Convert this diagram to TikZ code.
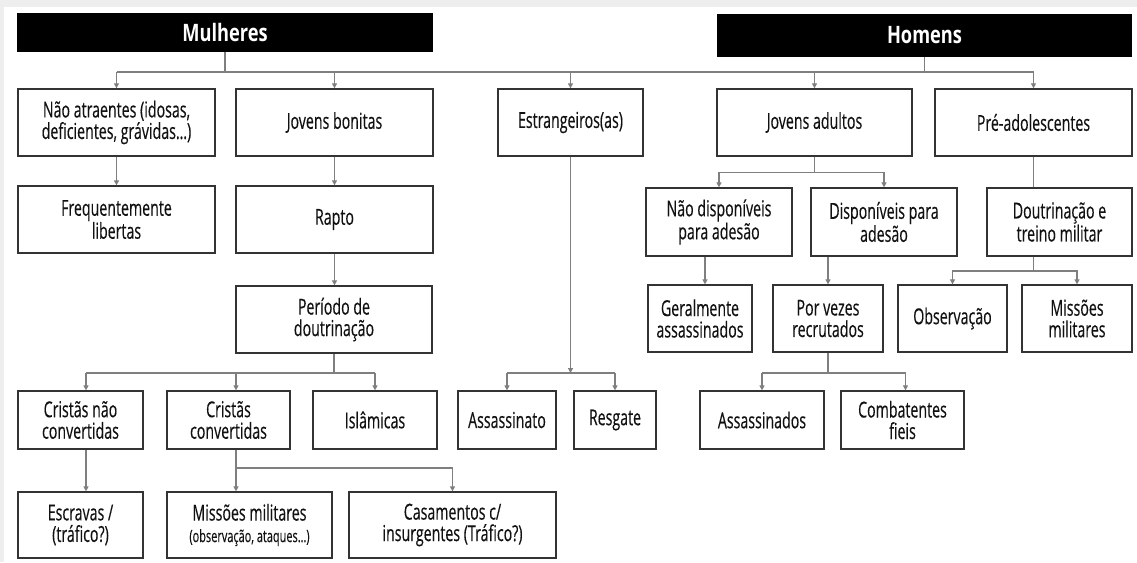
\documentclass[tikz,border=0pt]{standalone}
\usepackage{fontspec}
\setmainfont{Open Sans}[FakeStretch=0.645,FakeBold=0.3]
\newfontfamily\hdrfont{Open Sans}[FakeStretch=0.76]
\usetikzlibrary{arrows.meta}
\definecolor{conn}{HTML}{7F7F7F}
\definecolor{bord}{HTML}{333333}
\definecolor{framegray}{HTML}{EEEEEE}
\definecolor{txt}{HTML}{111111}
\tikzset{
  box/.style={draw=bord, line width=1.3pt, fill=white, align=center, inner sep=1pt,
    font=\fontsize{22}{21.5}\selectfont, text=txt},
  hdr/.style={fill=black, text=white, font=\hdrfont\bfseries\fontsize{24}{26}\selectfont, inner sep=0pt},
  link/.style={draw=conn, line width=1.2pt},
  arr/.style={link, -{Triangle[length=5pt,width=5pt]}},
}
\begin{document}
\begin{tikzpicture}[x=1pt,y=-1pt]
\useasboundingbox (0,0) rectangle (1137,562);
\fill[white] (0,0) rectangle (1137,562);
\fill[framegray] (0,0) rectangle (1137,7);
\fill[framegray] (0,0) rectangle (4,562);

% headers
\node[hdr, minimum width=416pt, minimum height=39pt] (mul) at (225,32.5) {Mulheres};
\node[hdr, minimum width=415pt, minimum height=43pt] (hom) at (924.5,35.5) {Homens};

% row 1
\node[box, minimum width=197pt, minimum height=67pt] (na) at (116.5,122.5) {Não atraentes (idosas,\\deficientes, grávidas…)};
\node[box, minimum width=197pt, minimum height=67pt] (jb) at (334.5,122.5) {Jovens bonitas};
\node[box, minimum width=145pt, minimum height=67pt] (est) at (570.5,122.5) {Estrangeiros(as)};
\node[box, minimum width=195pt, minimum height=67pt] (ja) at (814.5,122.5) {Jovens adultos};
\node[box, minimum width=197pt, minimum height=67pt] (pre) at (1033.5,122.5) {Pré-adolescentes};

% row 2
\node[box, minimum width=197pt, minimum height=67pt] (freq) at (116.5,219.5) {Frequentemente\\libertas};
\node[box, minimum width=197pt, minimum height=67pt] (rapto) at (334.5,219.5) {Rapto};
\node[box, minimum width=146pt, minimum height=68pt] (nd) at (719,222) {Não disponíveis\\para adesão};
\node[box, minimum width=146pt, minimum height=68pt] (d) at (884,222) {Disponíveis para\\adesão};
\node[box, minimum width=145pt, minimum height=68pt] (dout) at (1059.5,222) {Doutrinação e\\treino militar};

% row 3
\node[box, minimum width=196pt, minimum height=67pt] (per) at (334,319.5) {Período de\\doutrinação};
\node[box, minimum width=104pt, minimum height=67pt] (ger) at (700,318.5) {Geralmente\\assassinados};
\node[box, minimum width=110pt, minimum height=67pt] (por) at (828,318.5) {Por vezes\\recrutados};
\node[box, minimum width=109pt, minimum height=67pt] (obs) at (952.5,318.5) {Observação};
\node[box, minimum width=110pt, minimum height=67pt] (mis) at (1077,318.5) {Missões\\militares};

% row 4
\node[box, minimum width=125pt, minimum height=58pt] (cn) at (80.5,420) {Cristãs não\\convertidas};
\node[box, minimum width=123pt, minimum height=58pt] (cc) at (228.5,420) {Cristãs\\convertidas};
\node[box, minimum width=124pt, minimum height=58pt] (isl) at (375,420) {Islâmicas};
\node[box, minimum width=98pt, minimum height=58pt] (ass) at (507,420) {Assassinato};
\node[box, minimum width=82pt, minimum height=58pt] (res) at (615,420) {Resgate};
\node[box, minimum width=124pt, minimum height=58pt] (assd) at (762,420) {Assassinados};
\node[box, minimum width=123pt, minimum height=58pt] (comb) at (902.5,420) {Combatentes\\fieis};

% row 5
\node[box, minimum width=125pt, minimum height=66pt] (esc) at (80.5,525) {Escravas /\\(tráfico?)};
\node[box, minimum width=165pt, minimum height=66pt] (mm) at (249.5,525) {Missões militares\\{\fontsize{17}{19}\selectfont (observação, ataques…)}};
\node[box, minimum width=207pt, minimum height=66pt] (cas) at (452.5,525) {Casamentos c/\\insurgentes (Tráfico?)};

% top bus
\coordinate (bus) at (0,72);
\draw[link] (mul.south) -- (mul.south |- bus);
\draw[link] (hom.south) -- (hom.south |- bus);
\draw[link] (na.north |- bus) -- (pre.north |- bus);
\foreach \n in {na,jb,est,ja,pre} \draw[arr] (\n.north |- bus) -- (\n.north);

% left column chains
\draw[arr] (na.south) -- (freq.north);
\draw[arr] (jb.south) -- (rapto.north);
\draw[arr] (rapto.south) -- (rapto.south |- per.north);

% jovens adultos
\draw[arr] (ja.south) -- ++(0,16) -| (nd.north);
\draw[arr] (ja.south) -- ++(0,16) -| (d.north);
\draw[arr] ([xshift=-14pt]nd.south) -- ([xshift=-14pt]nd.south |- ger.north);
\draw[arr] ([xshift=-56pt]d.south) -- ([xshift=-56pt]d.south |- por.north);

% pre-adolescentes
\draw[link] (pre.south) -- (pre.south |- dout.north);
\coordinate (dbus) at (0,271);
\draw[link] (pre.south |- dout.south) -- (pre.south |- dbus);
\draw[arr] (pre.south |- dbus) -| (obs.north);
\draw[arr] (pre.south |- dbus) -| (mis.north);

% periodo de doutrinacao
\coordinate (pbus) at (0,373);
\coordinate (cnx) at (86,0);
\coordinate (ccx) at (236,0);
\draw[link] (per.south) -- (per.south |- pbus);
\draw[link] (cnx |- pbus) -- (isl.north |- pbus);
\draw[arr] (cnx |- pbus) -- (cnx |- cn.north);
\draw[arr] (ccx |- pbus) -- (ccx |- cc.north);
\draw[arr] (isl.north |- pbus) -- (isl.north);

% estrangeiros
\draw[arr] (est.south) -- (est.south |- pbus);
\draw[link] (ass.north |- pbus) -- (res.north |- pbus);
\draw[arr] (ass.north |- pbus) -- (ass.north);
\draw[arr] (res.north |- pbus) -- (res.north);

% por vezes recrutados
\draw[link] (por.south) -- (por.south |- pbus);
\draw[link] (assd.north |- pbus) -- ([xshift=3pt]comb.north |- pbus);
\draw[arr] (assd.north |- pbus) -- (assd.north);
\draw[arr] ([xshift=3pt]comb.north |- pbus) -- ([xshift=3pt]comb.north);

% cristas
\draw[arr] (cnx |- cn.south) -- (cnx |- esc.north);
\coordinate (cbus) at (0,468);
\draw[link] (ccx |- cc.south) -- (ccx |- cbus) -- (cas.north |- cbus);
\draw[arr] (ccx |- cbus) -- (ccx |- mm.north);
\draw[arr] (cas.north |- cbus) -- (cas.north);
\end{tikzpicture}
\end{document}
